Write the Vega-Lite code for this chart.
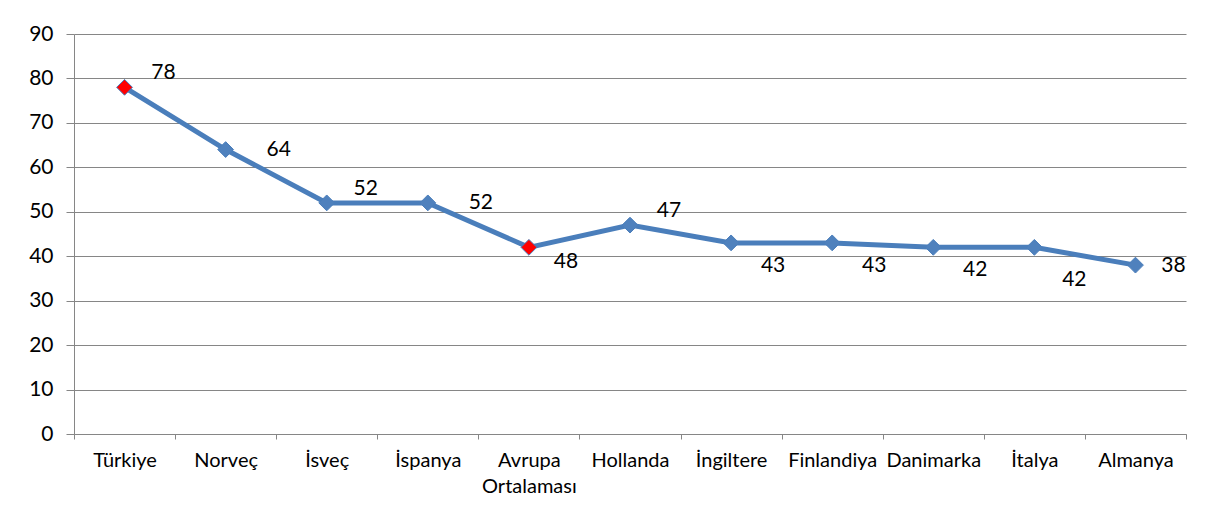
{
  "$schema": "https://vega.github.io/schema/vega-lite/v6.json",
  "width": 1112,
  "height": 400,
  "autosize": "none",
  "padding": {"left": 74, "top": 34, "right": 44, "bottom": 85},
  "background": "white",
  "config": {
    "view": {"stroke": null},
    "font": "Lato",
    "axis": {"labelFont": "Lato", "labelColor": "black", "domainColor": "#868686", "tickColor": "#868686", "gridColor": "#868686"}
  },
  "data": {
    "values": [
      {"ulke": "Türkiye", "deger": 78, "etiket": "78"},
      {"ulke": "Norveç", "deger": 64, "etiket": "64"},
      {"ulke": "İsveç", "deger": 52, "etiket": "52"},
      {"ulke": "İspanya", "deger": 52, "etiket": "52"},
      {"ulke": "Avrupa Ortalaması", "deger": 42, "etiket": "48"},
      {"ulke": "Hollanda", "deger": 47, "etiket": "47"},
      {"ulke": "İngiltere", "deger": 43, "etiket": "43"},
      {"ulke": "Finlandiya", "deger": 43, "etiket": "43"},
      {"ulke": "Danimarka", "deger": 42, "etiket": "42"},
      {"ulke": "İtalya", "deger": 42, "etiket": "42"},
      {"ulke": "Almanya", "deger": 38, "etiket": "38"}
    ]
  },
  "encoding": {
    "x": {
      "field": "ulke", "type": "nominal", "sort": null,
      "scale": {"type": "band", "paddingInner": 0, "paddingOuter": 0},
      "axis": {"title": null, "labelAngle": 0, "labelFontSize": 20, "tickBand": "extent", "tickSize": 5, "labelPadding": 11, "labelExpr": "isString(datum.value) ? split(datum.value, ' ') : ''", "labelLineHeight": 26, "grid": false, "domainWidth": 1}
    },
    "y": {
      "field": "deger", "type": "quantitative",
      "scale": {"domain": [0, 90], "nice": false},
      "axis": {"title": null, "values": [0,10,20,30,40,50,60,70,80,90], "labelFontSize": 21, "tickSize": 8, "labelPadding": 13, "grid": true, "gridWidth": 1}
    }
  },
  "layer": [
    {"mark": {"type": "line", "color": "#4A7EBB", "strokeWidth": 5}},
    {
      "mark": {"type": "point", "shape": "diamond", "size": 250, "filled": true, "stroke": "#4A7EBB", "strokeWidth": 1, "opacity": 1},
      "encoding": {
        "color": {"condition": {"test": "datum.ulke === 'Türkiye' || datum.ulke === 'Avrupa Ortalaması'", "value": "#FF0000"}, "value": "#4F81BD"}
      }
    },
    {
      "transform": [{"filter": "indexof(['Türkiye','İsveç','Hollanda'], datum.ulke) >= 0"}],
      "mark": {"type": "text", "fontSize": 21, "color": "black", "dx": 39, "dy": -14},
      "encoding": {"text": {"field": "etiket"}}
    },
    {
      "transform": [{"filter": "indexof(['Norveç','İspanya'], datum.ulke) >= 0"}],
      "mark": {"type": "text", "fontSize": 21, "color": "black", "dx": 53, "dy": 0},
      "encoding": {"text": {"field": "etiket"}}
    },
    {
      "transform": [{"filter": "datum.ulke === 'Almanya'"}],
      "mark": {"type": "text", "fontSize": 21, "color": "black", "dx": 38, "dy": 1},
      "encoding": {"text": {"field": "etiket"}}
    },
    {
      "transform": [{"filter": "datum.ulke === 'Avrupa Ortalaması'"}],
      "mark": {"type": "text", "fontSize": 21, "color": "black", "dx": 37, "dy": 15},
      "encoding": {"text": {"field": "etiket"}}
    },
    {
      "transform": [{"filter": "indexof(['İngiltere','Finlandiya','Danimarka'], datum.ulke) >= 0"}],
      "mark": {"type": "text", "fontSize": 21, "color": "black", "dx": 42, "dy": 23},
      "encoding": {"text": {"field": "etiket"}}
    },
    {
      "transform": [{"filter": "datum.ulke === 'İtalya'"}],
      "mark": {"type": "text", "fontSize": 21, "color": "black", "dx": 40, "dy": 33},
      "encoding": {"text": {"field": "etiket"}}
    }
  ]
}
